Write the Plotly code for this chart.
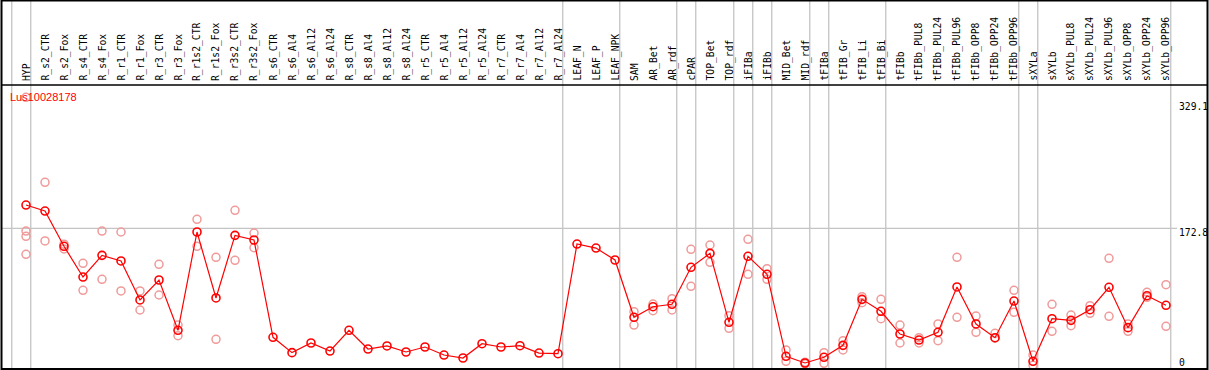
import plotly.graph_objects as go

title = "Lus10028178"

categories = [
    "HYP", "R_s2_CTR", "R_s2_Fox", "R_s4_CTR", "R_s4_Fox", "R_r1_CTR", "R_r1_Fox",
    "R_r3_CTR", "R_r3_Fox", "R_r1s2_CTR", "R_r1s2_Fox", "R_r3s2_CTR", "R_r3s2_Fox",
    "R_s6_CTR", "R_s6_Al4", "R_s6_Al12", "R_s6_Al24", "R_s8_CTR", "R_s8_Al4",
    "R_s8_Al12", "R_s8_Al24", "R_r5_CTR", "R_r5_Al4", "R_r5_Al12", "R_r5_Al24",
    "R_r7_CTR", "R_r7_Al4", "R_r7_Al12", "R_r7_Al24", "LEAF_N", "LEAF_P", "LEAF_NPK",
    "SAM", "AR_Bet", "AR_rdf", "cPAR", "TOP_Bet", "TOP_rdf", "iFIBa", "iFIBb",
    "MID_Bet", "MID_rdf", "tFIBa", "tFIB_Gr", "tFIB_Li", "tFIB_Bi", "tFIBb",
    "tFIBb_PUL8", "tFIBb_PUL24", "tFIBb_PUL96", "tFIBb_OPP8", "tFIBb_OPP24",
    "tFIBb_OPP96", "sXYLa", "sXYLb", "sXYLb_PUL8", "sXYLb_PUL24", "sXYLb_PUL96",
    "sXYLb_OPP8", "sXYLb_OPP24", "sXYLb_OPP96",
]

mean_values = [
    201.8, 194.3, 150.4, 112.1, 139.1, 132.1, 83.5, 108.4, 45.7, 168.2, 86.0, 164.0, 158.2,
    37.0, 17.9, 29.9, 19.9, 45.7, 22.4, 26.2, 18.7, 24.9, 14.9, 11.2, 29.0,
    24.9, 26.5, 17.4, 16.6, 153.2, 148.2, 133.3,
    61.9, 75.1, 78.1, 124.2, 141.6, 55.7, 137.9, 115.5,
    13.3, 5.0, 12.1, 27.0, 84.3, 69.4, 41.1,
    33.6, 43.2, 99.7, 53.6, 36.5, 82.2,
    7.1, 60.2, 58.1, 71.4, 99.3, 49.0, 88.8, 76.9,
]

replicate_values = [
    [336.0, 169.4, 162.8, 140.4], [230.1, 157.0], [153.0, 147.0], [129.2, 95.5],
    [169.4, 109.2], [168.2, 94.7], [94.7, 71.0], [127.9, 89.7], [52.3, 39.0],
    [184.0, 150.4], [136.7, 34.5], [195.2, 132.9], [166.9, 148.6],
    [], [], [], [], [], [], [], [], [], [], [], [], [], [], [], [], [], [], [],
    [68.9, 52.3], [78.5, 70.1], [85.1, 71.0], [146.6, 100.5], [152.0, 130.4],
    [63.9, 48.2], [159.1, 115.5], [122.5, 109.2],
    [21.2, 7.1], [6.0, 4.0], [17.8, 4.6], [32.8, 21.2], [87.6, 80.1], [84.3, 60.2],
    [52.3, 29.9],
    [36.5, 29.9], [53.6, 32.8], [136.7, 61.9], [63.5, 43.2], [42.0, 35.8], [95.5, 68.1],
    [14.9, 2.1], [78.1, 44.5], [64.8, 51.5], [76.4, 66.9], [135.4, 63.2], [53.6, 44.5],
    [93.1, 86.8], [102.5, 50.7],
]

axis_labels = ["329.1", "172.8", "0"]
axis_values = [329.1, 172.8, 0.0]
# indices after which a group separator is drawn
group_ends = [-1, 0, 28, 31, 34, 35, 37, 38, 39, 41, 42, 45, 52, 53, 60]

W, H = 1209, 370
X0_PX, X_STEP = 26.0, 19.0       # pixel of first category, pixels per category
Y0_PX, Y_SCALE = 367.0, 0.8027   # pixel of value 0, pixels per unit

xmin = -X0_PX / X_STEP
xmax = xmin + W / X_STEP
ymax = Y0_PX / Y_SCALE
ymin = ymax - H / Y_SCALE


def px(x):
    return x / W


def py(y):
    return 1 - y / H


idx = list(range(len(categories)))
rep_x, rep_y = [], []
for i, reps in enumerate(replicate_values):
    for v in reps:
        rep_x.append(i)
        rep_y.append(v)

fig = go.Figure()
fig.add_trace(go.Scatter(
    x=rep_x, y=rep_y, mode="markers",
    marker=dict(symbol="circle-open", size=8, color="#F09A9A", line=dict(width=1.5, color="#F09A9A")),
    hoverinfo="skip", showlegend=False, cliponaxis=False,
))
fig.add_trace(go.Scatter(
    x=idx, y=mean_values, mode="lines+markers",
    line=dict(color="#FF0000", width=1.2),
    marker=dict(symbol="circle-open", size=8, color="#FF0000", line=dict(width=1.6, color="#FF0000")),
    showlegend=False, cliponaxis=False,
))

shapes = []
for g in group_ends:
    shapes.append(dict(type="line", xref="x", yref="paper", x0=g + 0.25, x1=g + 0.25,
                       y0=py(369), y1=py(0), line=dict(color="#C4C4C4", width=1.3), layer="below"))
shapes.append(dict(type="line", xref="paper", yref="y", x0=px(1), x1=px(1177),
                   y0=axis_values[1], y1=axis_values[1], line=dict(color="#C4C4C4", width=1.3), layer="below"))
shapes.append(dict(type="line", xref="paper", yref="paper", x0=px(1), x1=px(1208),
                   y0=py(85), y1=py(85), line=dict(color="black", width=1.5)))
shapes.append(dict(type="rect", xref="paper", yref="paper", x0=px(1.5), x1=px(1207.5),
                   y0=py(369), y1=py(0.5), line=dict(color="black", width=2)))

annotations = []
for i, c in enumerate(categories):
    annotations.append(dict(x=i, y=py(83), xref="x", yref="paper", text=c, showarrow=False,
                            textangle=-90, xanchor="center", yanchor="bottom",
                            font=dict(family="DejaVu Sans Mono", size=9.7, color="black")))
annotations.append(dict(x=px(8), y=py(97), xref="paper", yref="paper", text=title,
                        showarrow=False, xanchor="left", yanchor="middle",
                        font=dict(family="Liberation Sans", size=11, color="#FF0000")))
# axis value labels: placed just below their value line (0 just above its line)
label_offsets_px = {329.1: 4.0, 172.8: 4.4, 0.0: -5.0}
for lab, v in zip(axis_labels, axis_values):
    yv = v - label_offsets_px[v] / Y_SCALE
    annotations.append(dict(x=px(1177), y=yv, xref="paper", yref="y", text=lab, showarrow=False,
                            xanchor="left", yanchor="middle",
                            font=dict(family="DejaVu Sans Mono", size=9.7, color="black")))

fig.update_layout(
    width=W, height=H, margin=dict(l=0, r=0, t=0, b=0, autoexpand=False),
    paper_bgcolor="white", plot_bgcolor="white",
    xaxis=dict(range=[xmin, xmax], visible=False, fixedrange=True),
    yaxis=dict(range=[ymin, ymax], visible=False, fixedrange=True),
    shapes=shapes, annotations=annotations, showlegend=False,
)

fig.write_html("out.html", config={"displayModeBar": False},
               post_script="document.body.style.margin='0px';document.body.style.overflow='hidden';")
